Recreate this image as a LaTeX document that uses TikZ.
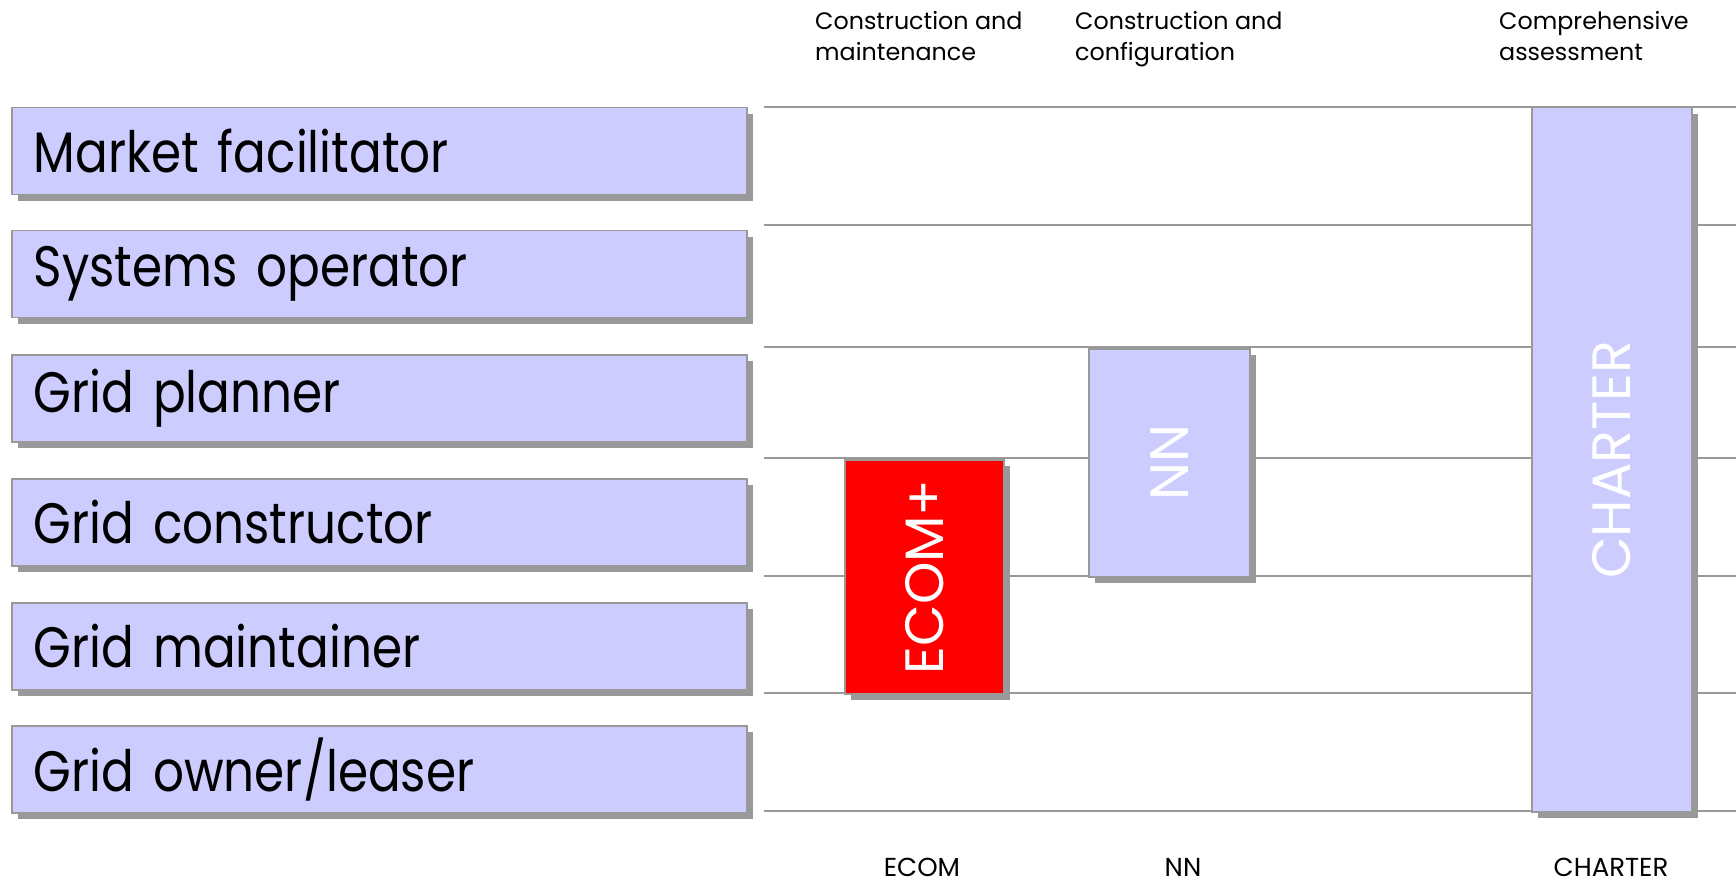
\documentclass[tikz,border=0pt]{standalone}
\usepackage{fontspec}
\setmainfont{Poppins}
\newfontfamily\rolefont{Poppins}[FakeStretch=0.85]
\usetikzlibrary{shadows}
\definecolor{lav}{HTML}{CCCCFF}
\definecolor{edge}{HTML}{999999}
\definecolor{red0}{HTML}{FF0000}
\tikzset{
  shad/.style={drop shadow={shadow xshift=6pt, shadow yshift=-6pt, fill=edge, opacity=1}},
  role/.style={draw=edge, line width=1.5pt, fill=lav, shad, anchor=north west,
    minimum width=735pt, minimum height=87pt, inner xsep=22pt, text width=691pt,
    align=left, font=\rolefont\fontsize{57}{60}\selectfont},
  bar/.style={draw=edge, line width=1.5pt, shad, anchor=north west, inner sep=0pt},
  vtext/.style={rotate=90, text=white, font=\fontsize{54}{58}\selectfont},
  gridline/.style={draw=edge, line width=2pt},
  toplabel/.style={anchor=north west, align=left, font=\fontsize{23.8}{31}\selectfont, inner sep=0pt},
  botlabel/.style={font=\fontsize{26}{30}\selectfont, inner sep=0pt}
}
\begin{document}
\begin{tikzpicture}[x=1pt,y=-1pt]
\useasboundingbox (0,0) rectangle (1736,882);
% grid lines
\foreach \yy in {107,225,347,458,576,693,811}
  \draw[gridline] (764,\yy) -- (1736,\yy);
% role boxes
\node[role] (r1) at (11,107) {Market facilitator};
\node[role] (r2) at (11,230) {Systems operator};
\node[role] (r3) at (11,354) {Grid planner};
\node[role] (r4) at (11,478) {Grid constructor};
\node[role] (r5) at (11,602) {Grid maintainer};
\node[role] (r6) at (11,725) {Grid owner/leaser};
% bars
\node[bar, fill=red0, minimum width=159pt, minimum height=234pt] (ecom) at (844,459) {};
\node[vtext] at (ecom.center) {ECOM+};
\node[bar, fill=lav, minimum width=161pt, minimum height=228pt] (nn) at (1088,348) {};
\node[vtext] at (nn.center) {NN};
\node[bar, fill=lav, minimum width=160pt, minimum height=704pt] (charter) at (1531,107) {};
\node[vtext] at (charter.center) {CHARTER};
% top labels
\node[toplabel] (t1) at (815,11) {Construction and\\maintenance};
\node[toplabel] (t2) at (1075,11) {Construction and\\configuration};
\node[toplabel] (t3) at (1499,11) {Comprehensive\\assessment};
% bottom labels
\node[botlabel] (b1) at (922,867) {ECOM};
\node[botlabel] (b2) at (1183,867) {NN};
\node[botlabel] (b3) at (1611,867) {CHARTER};
\end{tikzpicture}
\end{document}
